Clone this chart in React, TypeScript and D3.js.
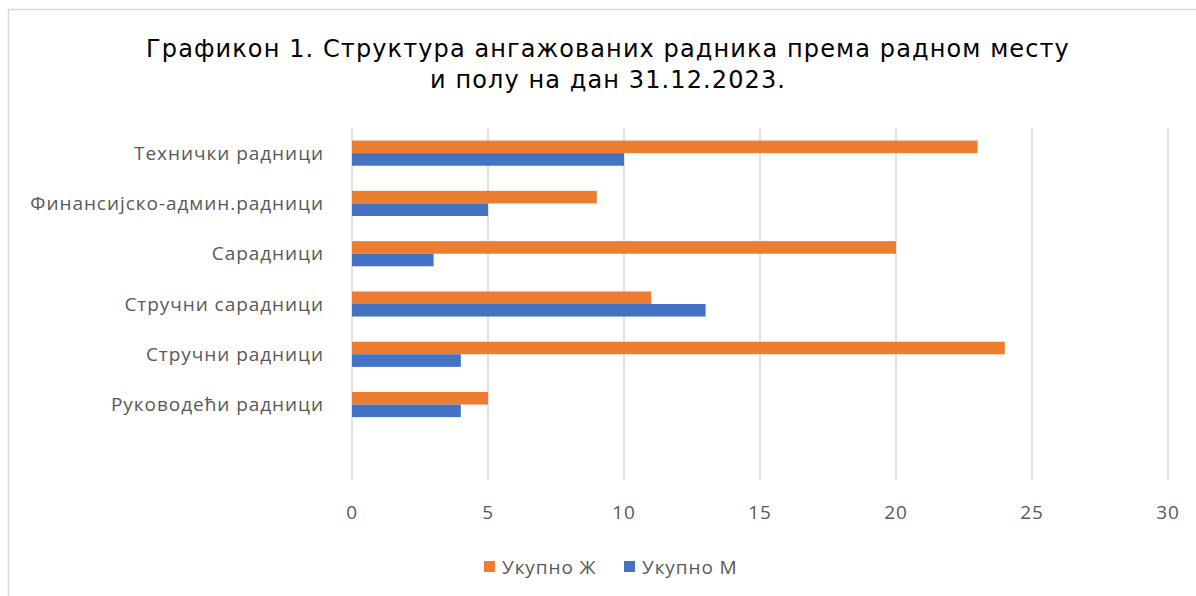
import React from "react";
import * as d3 from "d3";

const categories = [
  "Технички радници",
  "Финансијско-админ.радници",
  "Сарадници",
  "Стручни сарадници",
  "Стручни радници",
  "Руководећи радници",
  "",
];
const valuesZ = [23, 9, 20, 11, 24, 5, null];
const valuesM = [10, 5, 3, 13, 4, 4, null];
const seriesNames = ["Укупно Ж", "Укупно М"];
const seriesColors = ["#ED7D31", "#4472C4"];
const xTicks = [0, 5, 10, 15, 20, 25, 30];
const titleLines = [
  "Графикон 1. Структура ангажованих радника према радном месту",
  "и полу на дан 31.12.2023.",
];

export default function App() {
  const W = 1196;
  const H = 596;
  const left = 352;
  const right = 1168;
  const top = 128;
  const bottom = 480;

  const x = d3.scaleLinear().domain([0, 30]).range([left, right]);
  const y = d3
    .scaleBand<string>()
    .domain(categories.map((c, i) => String(i)))
    .range([top, bottom])
    .paddingInner(0.5)
    .paddingOuter(0.25);
  const sub = d3.scaleBand<number>().domain([0, 1]).range([0, y.bandwidth()]);

  const labelFont = "'Open Sans', 'Noto Sans', sans-serif";
  const series = [valuesZ, valuesM];

  return (
    <svg
      width={W}
      height={H}
      style={{ position: "absolute", left: 0, top: 0, background: "#fff" }}
    >
      <rect x={8.5} y={9.5} width={1200} height={600} fill="#fff" stroke="#d9d9d9" strokeWidth={1.5} />
      {titleLines.map((t, i) => (
        <text
          key={i}
          x={608}
          y={57 + i * 31}
          textAnchor="middle"
          fontFamily="'DejaVu Sans', Verdana, sans-serif"
          fontSize={24}
          letterSpacing={1.1}
          fill="#000"
        >
          {t}
        </text>
      ))}
      {xTicks.map((t) => (
        <g key={t}>
          <line x1={x(t)} x2={x(t)} y1={top} y2={bottom} stroke="#d9d9d9" strokeWidth={1.5} />
          <text
            x={x(t)}
            y={519}
            textAnchor="middle"
            fontFamily={labelFont}
            fontSize={19}
            letterSpacing={0.8}
            fill="#595959"
          >
            {t}
          </text>
        </g>
      ))}
      {categories.map((c, i) => {
        const y0 = y(String(i))!;
        return (
          <g key={i}>
            {c && (
              <text
                x={324}
                y={y0 + y.bandwidth() / 2}
                dy="0.35em"
                textAnchor="end"
                fontFamily={labelFont}
                fontSize={19}
                letterSpacing={0.95}
                fill="#595959"
              >
                {c}
              </text>
            )}
            {series.map((s, si) =>
              s[i] == null ? null : (
                <rect
                  key={si}
                  x={x(0)}
                  y={y0 + sub(si)!}
                  width={x(s[i] as number) - x(0)}
                  height={sub.bandwidth()}
                  fill={seriesColors[si]}
                />
              )
            )}
          </g>
        );
      })}
      {seriesNames.map((n, i) => {
        const lx = 484 + i * 140;
        return (
          <g key={n}>
            <rect x={lx} y={561} width={11} height={11} fill={seriesColors[i]} />
            <text
              x={lx + 18}
              y={567}
              dy="0.35em"
              fontFamily={labelFont}
              fontSize={19}
              letterSpacing={0.9}
              fill="#595959"
            >
              {n}
            </text>
          </g>
        );
      })}
    </svg>
  );
}
